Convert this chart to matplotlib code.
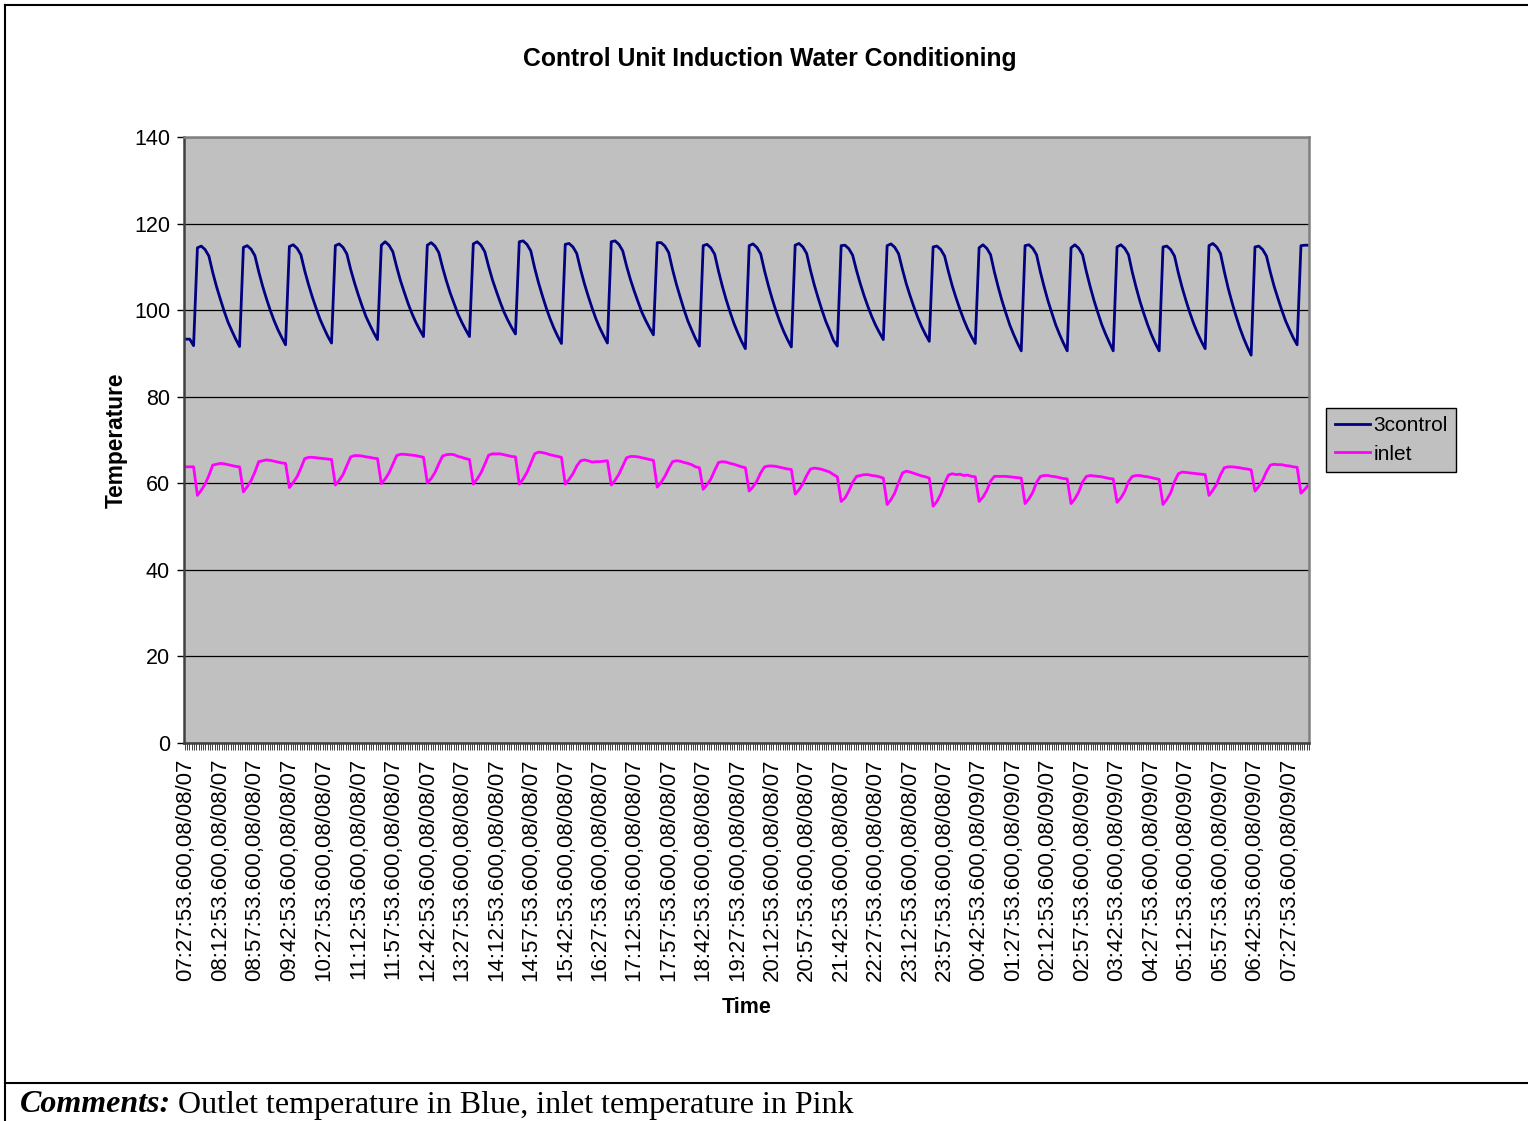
import numpy as np
import matplotlib
matplotlib.use('Agg')
import matplotlib.pyplot as plt
from matplotlib.lines import Line2D

plt.rcParams['font.family'] = ['Liberation Sans', 'DejaVu Sans']

# readings every 5 minutes, starting 07:27:53.600 08/08/07
step_minutes = 5

control_temp = [
    93.3, 93.3, 91.8,
    114.4, 114.8, 114.0, 112.5, 108.7, 105.4, 102.5, 99.7, 97.2, 95.2, 93.3, 91.6,
    114.5, 114.9, 114.1, 112.6, 108.9, 105.6, 102.7, 100.0, 97.6, 95.5, 93.7, 92.0,
    114.7, 115.1, 114.3, 112.8, 109.1, 105.9, 103.0, 100.4, 97.9, 95.9, 94.0, 92.4,
    114.9, 115.3, 114.5, 113.0, 109.4, 106.3, 103.5, 100.9, 98.5, 96.6, 94.8, 93.2,
    115.0, 115.8, 115.0, 113.5, 110.0, 106.8, 104.1, 101.5, 99.2, 97.2, 95.5, 93.9,
    115.0, 115.6, 114.8, 113.3, 109.8, 106.7, 103.9, 101.5, 99.1, 97.2, 95.5, 93.9,
    115.3, 115.8, 115.0, 113.5, 110.1, 107.0, 104.4, 101.9, 99.6, 97.7, 96.0, 94.5,
    115.8, 116.0, 115.2, 113.7, 109.8, 106.4, 103.4, 100.6, 98.1, 95.9, 94.0, 92.3,
    115.2, 115.4, 114.6, 113.1, 109.4, 106.1, 103.2, 100.5, 98.0, 95.9, 94.1, 92.4,
    115.8, 116.0, 115.2, 113.7, 110.2, 107.1, 104.4, 101.9, 99.5, 97.6, 95.9, 94.3,
    115.6, 115.6, 114.8, 113.3, 109.4, 106.0, 103.0, 100.1, 97.5, 95.4, 93.4, 91.7,
    114.9, 115.2, 114.4, 112.9, 109.0, 105.5, 102.4, 99.6, 97.0, 94.8, 92.8, 91.1,
    114.9, 115.3, 114.5, 113.0, 109.1, 105.7, 102.6, 99.8, 97.3, 95.1, 93.2, 91.5,
    115.0, 115.4, 114.6, 113.1, 109.2, 105.8, 102.8, 100.0, 97.4, 95.3, 93.0, 91.7,
    114.9, 115.0, 114.2, 112.7, 109.2, 106.1, 103.3, 100.8, 98.5, 96.5, 94.8, 93.2,
    114.9, 115.3, 114.5, 113.0, 109.4, 106.1, 103.3, 100.7, 98.3, 96.2, 94.4, 92.8,
    114.6, 114.8, 114.0, 112.5, 108.9, 105.6, 102.8, 100.2, 97.8, 95.7, 93.9, 92.3,
    114.4, 115.1, 114.3, 112.8, 108.8, 105.3, 102.1, 99.3, 96.6, 94.4, 92.4, 90.6,
    114.9, 115.1, 114.3, 112.8, 108.8, 105.3, 102.1, 99.3, 96.6, 94.4, 92.4, 90.6,
    114.4, 115.1, 114.3, 112.8, 108.9, 105.4, 102.2, 99.4, 96.7, 94.5, 92.5, 90.6,
    114.6, 115.1, 114.3, 112.8, 108.7, 105.2, 102.0, 99.2, 96.6, 94.3, 92.3, 90.6,
    114.6, 114.8, 114.0, 112.5, 108.6, 105.2, 102.2, 99.4, 96.9, 94.7, 92.8, 91.1,
    114.9, 115.4, 114.6, 113.1, 108.9, 105.1, 101.8, 98.8, 96.0, 93.6, 91.5, 89.6,
    114.6, 114.8, 114.0, 112.5, 108.8, 105.5, 102.7, 100.0, 97.5, 95.5, 93.6, 92.0,
    114.9, 115.0, 115.0,
]

inlet_temp = [
    63.8, 63.8, 63.8,
    57.2, 58.4, 59.8, 61.8, 64.2, 64.4, 64.6, 64.5, 64.3, 64.1, 63.9, 63.8,
    58.0, 59.2, 60.6, 62.6, 65.0, 65.2, 65.4, 65.3, 65.1, 64.9, 64.7, 64.6,
    59.0, 60.2, 61.5, 63.5, 65.7, 66.0, 66.0, 65.9, 65.8, 65.7, 65.6, 65.5,
    59.6, 60.7, 62.0, 64.1, 66.1, 66.4, 66.4, 66.3, 66.1, 66.0, 65.8, 65.7,
    59.9, 61.0, 62.4, 64.4, 66.4, 66.7, 66.7, 66.6, 66.5, 66.4, 66.2, 66.0,
    60.1, 61.1, 62.5, 64.5, 66.3, 66.6, 66.7, 66.6, 66.2, 66.0, 65.7, 65.5,
    59.8, 61.0, 62.4, 64.4, 66.5, 66.8, 66.8, 66.8, 66.6, 66.4, 66.2, 66.1,
    59.8, 61.0, 62.5, 64.6, 66.8, 67.2, 67.1, 66.9, 66.6, 66.4, 66.2, 66.0,
    59.8, 60.9, 62.2, 64.0, 65.2, 65.4, 65.2, 64.9, 65.0, 65.0, 65.1, 65.2,
    59.6, 60.7, 62.1, 64.0, 65.9, 66.2, 66.2, 66.1, 65.9, 65.7, 65.5, 65.3,
    59.1, 60.2, 61.6, 63.4, 65.0, 65.2, 65.1, 64.8, 64.6, 64.3, 63.8, 63.6,
    58.6, 59.7, 61.0, 63.0, 64.8, 65.0, 64.9, 64.6, 64.4, 64.1, 63.8, 63.6,
    58.2, 59.2, 60.5, 62.4, 63.8, 64.0, 64.0, 63.9, 63.7, 63.5, 63.3, 63.2,
    57.5, 58.5, 59.9, 61.8, 63.3, 63.5, 63.4, 63.2, 62.9, 62.6, 62.0, 61.5,
    55.8, 56.6, 58.2, 60.2, 61.6, 61.8, 62.0, 62.0, 61.8, 61.7, 61.5, 61.2,
    55.1, 56.2, 57.8, 60.2, 62.4, 62.8, 62.6, 62.3, 62.0, 61.7, 61.5, 61.2,
    54.7, 55.8, 57.5, 60.0, 61.9, 62.2, 62.0, 62.1, 61.8, 61.9, 61.6, 61.5,
    55.8, 56.8, 58.3, 60.5, 61.6, 61.6, 61.6, 61.6, 61.5, 61.4, 61.3, 61.2,
    55.3, 56.4, 57.9, 60.2, 61.6, 61.8, 61.8, 61.6, 61.5, 61.3, 61.1, 61.0,
    55.3, 56.4, 58.0, 60.3, 61.6, 61.8, 61.7, 61.6, 61.5, 61.3, 61.1, 61.0,
    55.6, 56.6, 58.1, 60.4, 61.6, 61.8, 61.8, 61.6, 61.5, 61.3, 61.1, 60.9,
    55.1, 56.3, 57.8, 60.4, 62.2, 62.6, 62.5, 62.4, 62.3, 62.2, 62.1, 62.0,
    57.2, 58.4, 59.8, 62.0, 63.6, 63.8, 63.8, 63.7, 63.6, 63.4, 63.3, 63.1,
    58.2, 59.3, 60.7, 62.7, 64.2, 64.4, 64.3, 64.3, 64.1, 64.0, 63.8, 63.7,
    57.7, 58.6, 59.7,
]

# category labels, one every 45 minutes
label_step = 45
time_labels = [
    '07:27:53.600,08/08/07', '08:12:53.600,08/08/07', '08:57:53.600,08/08/07',
    '09:42:53.600,08/08/07', '10:27:53.600,08/08/07', '11:12:53.600,08/08/07',
    '11:57:53.600,08/08/07', '12:42:53.600,08/08/07', '13:27:53.600,08/08/07',
    '14:12:53.600,08/08/07', '14:57:53.600,08/08/07', '15:42:53.600,08/08/07',
    '16:27:53.600,08/08/07', '17:12:53.600,08/08/07', '17:57:53.600,08/08/07',
    '18:42:53.600,08/08/07', '19:27:53.600,08/08/07', '20:12:53.600,08/08/07',
    '20:57:53.600,08/08/07', '21:42:53.600,08/08/07', '22:27:53.600,08/08/07',
    '23:12:53.600,08/08/07', '23:57:53.600,08/08/07', '00:42:53.600,08/09/07',
    '01:27:53.600,08/09/07', '02:12:53.600,08/09/07', '02:57:53.600,08/09/07',
    '03:42:53.600,08/09/07', '04:27:53.600,08/09/07', '05:12:53.600,08/09/07',
    '05:57:53.600,08/09/07', '06:42:53.600,08/09/07', '07:27:53.600,08/09/07',
]

minutes = np.arange(len(control_temp)) * step_minutes

W, H = 1528, 1121
fig = plt.figure(figsize=(W / 100, H / 100), dpi=100)
fig.patch.set_facecolor('white')

ax = fig.add_axes([184 / W, 1 - 743 / H, 1125 / W, 606 / H])
ax.set_facecolor('#c0c0c0')

ax.plot(minutes, control_temp, color='#000080', lw=2.0, label='3control')
ax.plot(minutes, inlet_temp, color='#ff00ff', lw=2.0, label='inlet')

ax.set_ylim(0, 140)
ax.set_yticks(np.arange(0, 141, 20))
ax.yaxis.grid(True, color='black', lw=0.9)
ax.set_axisbelow(True)

ax.set_xlim(-2.5, 1465)
ax.set_xticks(np.arange(len(time_labels)) * label_step)
ax.set_xticklabels(time_labels, rotation=90, fontsize=16)
ax.set_xticks(np.arange(-1.5, 1466, 3), minor=True)
ax.tick_params(axis='x', which='both', length=5, width=0.6, direction='out',
               color='#202020')
ax.tick_params(axis='x', which='major', length=0, pad=11)
ax.tick_params(axis='y', length=5, width=1, labelsize=15.5, pad=5)

for side in ['left', 'bottom']:
    ax.spines[side].set_color('#404040')
    ax.spines[side].set_linewidth(1.8)
for side in ['top', 'right']:
    ax.spines[side].set_color('#808080')
    ax.spines[side].set_linewidth(1.8)

ax.set_xlabel('Time', fontsize=15.5, fontweight='bold')
ax.xaxis.set_label_coords((747 - 184) / 1125, (743 - 997) / 606)
ax.set_ylabel('Temperature', fontsize=16.4, fontweight='bold')
ax.yaxis.set_label_coords((128 - 184) / 1125, 0.5)

fig.text(770 / W, 1 - 59 / H, 'Control Unit Induction Water Conditioning',
         ha='center', va='center', fontsize=17.8, fontweight='bold')

leg = ax.legend(loc='center left', bbox_to_anchor=(1326 / W, 1 - 440 / H),
                bbox_transform=fig.transFigure, fontsize=15, frameon=True,
                fancybox=False, edgecolor='black', facecolor='#c0c0c0',
                framealpha=1, handlelength=1.7, handletextpad=0.15,
                borderpad=0.42, labelspacing=0.45, borderaxespad=0)
leg.get_frame().set_linewidth(1.0)

# page frame around the chart and comment line
fig.add_artist(Line2D([5 / W, 1], [1 - 5 / H, 1 - 5 / H], color='black', lw=1.5))
fig.add_artist(Line2D([5 / W, 5 / W], [0, 1 - 5 / H], color='black', lw=1.5))
fig.add_artist(Line2D([5 / W, 1], [1 - 1083 / H, 1 - 1083 / H], color='black', lw=1.5))

c1 = fig.text(20 / W, 1 - 1105 / H, 'Comments:', family='Liberation Serif',
              fontsize=23, fontweight='bold', fontstyle='italic', va='center')
fig.canvas.draw()
bb = c1.get_window_extent(fig.canvas.get_renderer())
fig.text((bb.x1 + 7) / W, 1 - 1105 / H, 'Outlet temperature in Blue, inlet temperature in Pink',
         family='Liberation Serif', fontsize=23, va='center')

fig.savefig('out.png', dpi=100)
